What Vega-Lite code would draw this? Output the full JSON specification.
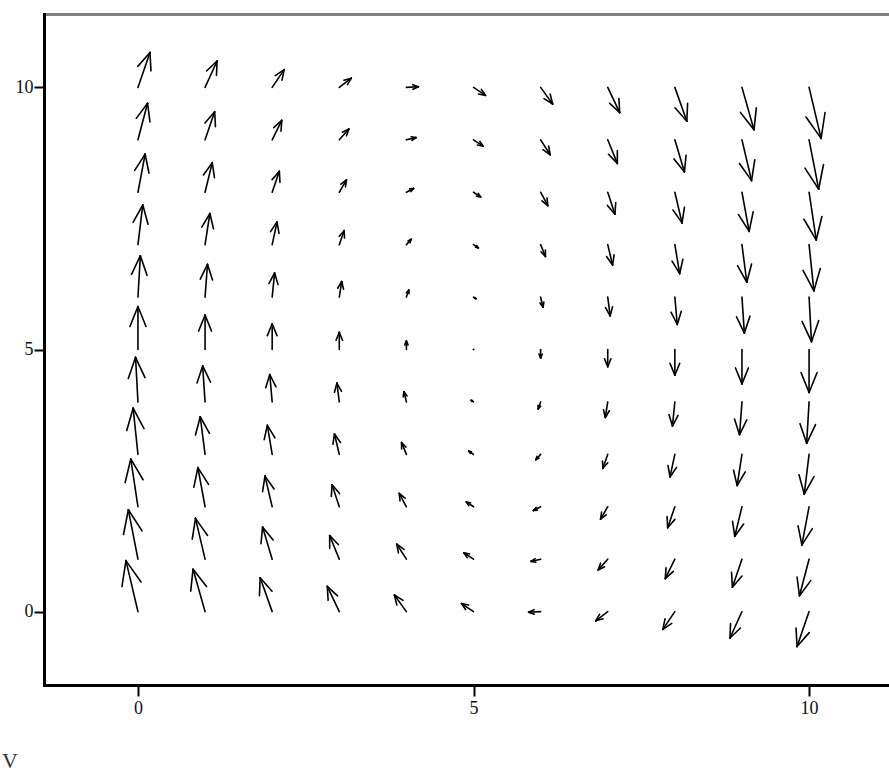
{
  "$schema": "https://vega.github.io/schema/vega-lite/v6.json",
  "width": 845,
  "height": 671,
  "autosize": "none",
  "padding": {"left": 44, "top": 14, "right": 0, "bottom": 93},
  "background": "white",
  "view": {"stroke": null},
  "title": {"text": "V", "orient": "bottom", "anchor": "start", "frame": "group", "dx": -42, "offset": 34, "font": "Liberation Serif", "fontSize": 22, "fontWeight": "normal", "color": "#333"},
  "config": {
    "axis": {"grid": false, "labelFont": "Liberation Serif", "labelFontSize": 18, "labelColor": "#111", "domainColor": "#000", "domainWidth": 3, "ticks": true, "tickColor": "#000", "tickWidth": 2, "tickOpacity": 1, "title": null},
    "rule": {"color": "#000", "strokeWidth": 1.6, "strokeCap": "round"}
  },
  "data": {"values": [
    {"x":0,"y":0,"hx":-0.179,"hy":0.973,"ax":0.046,"ay":0.565,"bx":-0.238,"by":0.479},
    {"x":1,"y":0,"hx":0.821,"hy":0.809,"ax":1.022,"ay":0.477,"bx":0.786,"by":0.391},
    {"x":2,"y":0,"hx":1.821,"hy":0.645,"ax":1.998,"ay":0.389,"bx":1.810,"by":0.303},
    {"x":3,"y":0,"hx":2.821,"hy":0.481,"ax":2.974,"ay":0.301,"bx":2.834,"by":0.215},
    {"x":4,"y":0,"hx":3.821,"hy":0.317,"ax":3.950,"ay":0.213,"bx":3.858,"by":0.127},
    {"x":5,"y":0,"hx":4.821,"hy":0.153,"ax":4.926,"ay":0.125,"bx":4.882,"by":0.039},
    {"x":6,"y":0,"hx":5.821,"hy":-0.011,"ax":5.902,"ay":0.037,"bx":5.906,"by":-0.049},
    {"x":7,"y":0,"hx":6.821,"hy":-0.175,"ax":6.878,"ay":-0.051,"bx":6.930,"by":-0.137},
    {"x":8,"y":0,"hx":7.821,"hy":-0.339,"ax":7.854,"ay":-0.139,"bx":7.954,"by":-0.225},
    {"x":9,"y":0,"hx":8.821,"hy":-0.503,"ax":8.830,"ay":-0.227,"bx":8.978,"by":-0.313},
    {"x":10,"y":0,"hx":9.821,"hy":-0.667,"ax":9.806,"ay":-0.315,"bx":10.002,"by":-0.401},
    {"x":0,"y":1,"hx":-0.143,"hy":1.942,"ax":0.061,"ay":1.540,"bx":-0.215,"by":1.471},
    {"x":1,"y":1,"hx":0.857,"hy":1.778,"ax":1.037,"ay":1.452,"bx":0.809,"by":1.383},
    {"x":2,"y":1,"hx":1.857,"hy":1.614,"ax":2.013,"ay":1.364,"bx":1.833,"by":1.295},
    {"x":3,"y":1,"hx":2.857,"hy":1.450,"ax":2.989,"ay":1.276,"bx":2.857,"by":1.207},
    {"x":4,"y":1,"hx":3.857,"hy":1.286,"ax":3.965,"ay":1.188,"bx":3.881,"by":1.119},
    {"x":5,"y":1,"hx":4.857,"hy":1.122,"ax":4.941,"ay":1.100,"bx":4.905,"by":1.031},
    {"x":6,"y":1,"hx":5.857,"hy":0.958,"ax":5.917,"ay":1.012,"bx":5.929,"by":0.943},
    {"x":7,"y":1,"hx":6.857,"hy":0.794,"ax":6.893,"ay":0.924,"bx":6.953,"by":0.855},
    {"x":8,"y":1,"hx":7.857,"hy":0.630,"ax":7.869,"ay":0.836,"bx":7.977,"by":0.767},
    {"x":9,"y":1,"hx":8.857,"hy":0.466,"ax":8.845,"ay":0.748,"bx":9.001,"by":0.679},
    {"x":10,"y":1,"hx":9.857,"hy":0.302,"ax":9.821,"ay":0.660,"bx":10.025,"by":0.591},
    {"x":0,"y":2,"hx":-0.107,"hy":2.912,"ax":0.076,"ay":2.515,"bx":-0.191,"by":2.463},
    {"x":1,"y":2,"hx":0.893,"hy":2.748,"ax":1.052,"ay":2.427,"bx":0.833,"by":2.375},
    {"x":2,"y":2,"hx":1.893,"hy":2.584,"ax":2.028,"ay":2.339,"bx":1.857,"by":2.287},
    {"x":3,"y":2,"hx":2.893,"hy":2.420,"ax":3.004,"ay":2.251,"bx":2.881,"by":2.199},
    {"x":4,"y":2,"hx":3.893,"hy":2.256,"ax":3.980,"ay":2.163,"bx":3.905,"by":2.111},
    {"x":5,"y":2,"hx":4.893,"hy":2.092,"ax":4.956,"ay":2.075,"bx":4.929,"by":2.023},
    {"x":6,"y":2,"hx":5.893,"hy":1.928,"ax":5.932,"ay":1.987,"bx":5.953,"by":1.935},
    {"x":7,"y":2,"hx":6.893,"hy":1.764,"ax":6.908,"ay":1.899,"bx":6.977,"by":1.847},
    {"x":8,"y":2,"hx":7.893,"hy":1.600,"ax":7.884,"ay":1.811,"bx":8.001,"by":1.759},
    {"x":9,"y":2,"hx":8.893,"hy":1.436,"ax":8.860,"ay":1.723,"bx":9.025,"by":1.671},
    {"x":10,"y":2,"hx":9.893,"hy":1.272,"ax":9.836,"ay":1.635,"bx":10.049,"by":1.583},
    {"x":0,"y":3,"hx":-0.072,"hy":3.881,"ax":0.090,"ay":3.490,"bx":-0.167,"by":3.456},
    {"x":1,"y":3,"hx":0.928,"hy":3.717,"ax":1.066,"ay":3.402,"bx":0.857,"by":3.368},
    {"x":2,"y":3,"hx":1.928,"hy":3.553,"ax":2.042,"ay":3.314,"bx":1.881,"by":3.280},
    {"x":3,"y":3,"hx":2.928,"hy":3.389,"ax":3.018,"ay":3.226,"bx":2.905,"by":3.192},
    {"x":4,"y":3,"hx":3.928,"hy":3.225,"ax":3.994,"ay":3.138,"bx":3.929,"by":3.104},
    {"x":5,"y":3,"hx":4.928,"hy":3.061,"ax":4.970,"ay":3.050,"bx":4.953,"by":3.016},
    {"x":6,"y":3,"hx":5.928,"hy":2.897,"ax":5.946,"ay":2.962,"bx":5.977,"by":2.928},
    {"x":7,"y":3,"hx":6.928,"hy":2.733,"ax":6.922,"ay":2.874,"bx":7.001,"by":2.840},
    {"x":8,"y":3,"hx":7.928,"hy":2.569,"ax":7.898,"ay":2.786,"bx":8.025,"by":2.752},
    {"x":9,"y":3,"hx":8.928,"hy":2.405,"ax":8.874,"ay":2.698,"bx":9.049,"by":2.664},
    {"x":10,"y":3,"hx":9.928,"hy":2.241,"ax":9.850,"ay":2.610,"bx":10.073,"by":2.576},
    {"x":0,"y":4,"hx":-0.036,"hy":4.851,"ax":0.105,"ay":4.465,"bx":-0.144,"by":4.448},
    {"x":1,"y":4,"hx":0.964,"hy":4.687,"ax":1.081,"ay":4.377,"bx":0.880,"by":4.360},
    {"x":2,"y":4,"hx":1.964,"hy":4.523,"ax":2.057,"ay":4.289,"bx":1.904,"by":4.272},
    {"x":3,"y":4,"hx":2.964,"hy":4.359,"ax":3.033,"ay":4.201,"bx":2.928,"by":4.184},
    {"x":4,"y":4,"hx":3.964,"hy":4.195,"ax":4.009,"ay":4.113,"bx":3.952,"by":4.096},
    {"x":5,"y":4,"hx":4.964,"hy":4.031,"ax":4.985,"ay":4.025,"bx":4.976,"by":4.008},
    {"x":6,"y":4,"hx":5.964,"hy":3.867,"ax":5.961,"ay":3.937,"bx":6.000,"by":3.920},
    {"x":7,"y":4,"hx":6.964,"hy":3.703,"ax":6.937,"ay":3.849,"bx":7.024,"by":3.832},
    {"x":8,"y":4,"hx":7.964,"hy":3.539,"ax":7.913,"ay":3.761,"bx":8.048,"by":3.744},
    {"x":9,"y":4,"hx":8.964,"hy":3.375,"ax":8.889,"ay":3.673,"bx":9.072,"by":3.656},
    {"x":10,"y":4,"hx":9.964,"hy":3.211,"ax":9.865,"ay":3.585,"bx":10.096,"by":3.568},
    {"x":0,"y":5,"hx":0,"hy":5.820,"ax":0.120,"ay":5.440,"bx":-0.120,"by":5.440},
    {"x":1,"y":5,"hx":1,"hy":5.656,"ax":1.096,"ay":5.352,"bx":0.904,"by":5.352},
    {"x":2,"y":5,"hx":2,"hy":5.492,"ax":2.072,"ay":5.264,"bx":1.928,"by":5.264},
    {"x":3,"y":5,"hx":3,"hy":5.328,"ax":3.048,"ay":5.176,"bx":2.952,"by":5.176},
    {"x":4,"y":5,"hx":4,"hy":5.164,"ax":4.024,"ay":5.088,"bx":3.976,"by":5.088},
    {"x":5,"y":5,"hx":5,"hy":5,"ax":5,"ay":5,"bx":5,"by":5},
    {"x":6,"y":5,"hx":6,"hy":4.836,"ax":5.976,"ay":4.912,"bx":6.024,"by":4.912},
    {"x":7,"y":5,"hx":7,"hy":4.672,"ax":6.952,"ay":4.824,"bx":7.048,"by":4.824},
    {"x":8,"y":5,"hx":8,"hy":4.508,"ax":7.928,"ay":4.736,"bx":8.072,"by":4.736},
    {"x":9,"y":5,"hx":9,"hy":4.344,"ax":8.904,"ay":4.648,"bx":9.096,"by":4.648},
    {"x":10,"y":5,"hx":10,"hy":4.180,"ax":9.880,"ay":4.560,"bx":10.120,"by":4.560},
    {"x":0,"y":6,"hx":0.036,"hy":6.789,"ax":0.135,"ay":6.415,"bx":-0.096,"by":6.432},
    {"x":1,"y":6,"hx":1.036,"hy":6.625,"ax":1.111,"ay":6.327,"bx":0.928,"by":6.344},
    {"x":2,"y":6,"hx":2.036,"hy":6.461,"ax":2.087,"ay":6.239,"bx":1.952,"by":6.256},
    {"x":3,"y":6,"hx":3.036,"hy":6.297,"ax":3.063,"ay":6.151,"bx":2.976,"by":6.168},
    {"x":4,"y":6,"hx":4.036,"hy":6.133,"ax":4.039,"ay":6.063,"bx":4.000,"by":6.080},
    {"x":5,"y":6,"hx":5.036,"hy":5.969,"ax":5.015,"ay":5.975,"bx":5.024,"by":5.992},
    {"x":6,"y":6,"hx":6.036,"hy":5.805,"ax":5.991,"ay":5.887,"bx":6.048,"by":5.904},
    {"x":7,"y":6,"hx":7.036,"hy":5.641,"ax":6.967,"ay":5.799,"bx":7.072,"by":5.816},
    {"x":8,"y":6,"hx":8.036,"hy":5.477,"ax":7.943,"ay":5.711,"bx":8.096,"by":5.728},
    {"x":9,"y":6,"hx":9.036,"hy":5.313,"ax":8.919,"ay":5.623,"bx":9.120,"by":5.640},
    {"x":10,"y":6,"hx":10.036,"hy":5.149,"ax":9.895,"ay":5.535,"bx":10.144,"by":5.552},
    {"x":0,"y":7,"hx":0.072,"hy":7.759,"ax":0.150,"ay":7.390,"bx":-0.073,"by":7.424},
    {"x":1,"y":7,"hx":1.072,"hy":7.595,"ax":1.126,"ay":7.302,"bx":0.951,"by":7.336},
    {"x":2,"y":7,"hx":2.072,"hy":7.431,"ax":2.102,"ay":7.214,"bx":1.975,"by":7.248},
    {"x":3,"y":7,"hx":3.072,"hy":7.267,"ax":3.078,"ay":7.126,"bx":2.999,"by":7.160},
    {"x":4,"y":7,"hx":4.072,"hy":7.103,"ax":4.054,"ay":7.038,"bx":4.023,"by":7.072},
    {"x":5,"y":7,"hx":5.072,"hy":6.939,"ax":5.030,"ay":6.950,"bx":5.047,"by":6.984},
    {"x":6,"y":7,"hx":6.072,"hy":6.775,"ax":6.006,"ay":6.862,"bx":6.071,"by":6.896},
    {"x":7,"y":7,"hx":7.072,"hy":6.611,"ax":6.982,"ay":6.774,"bx":7.095,"by":6.808},
    {"x":8,"y":7,"hx":8.072,"hy":6.447,"ax":7.958,"ay":6.686,"bx":8.119,"by":6.720},
    {"x":9,"y":7,"hx":9.072,"hy":6.283,"ax":8.934,"ay":6.598,"bx":9.143,"by":6.632},
    {"x":10,"y":7,"hx":10.072,"hy":6.119,"ax":9.910,"ay":6.510,"bx":10.167,"by":6.544},
    {"x":0,"y":8,"hx":0.107,"hy":8.728,"ax":0.164,"ay":8.365,"bx":-0.049,"by":8.417},
    {"x":1,"y":8,"hx":1.107,"hy":8.564,"ax":1.140,"ay":8.277,"bx":0.975,"by":8.329},
    {"x":2,"y":8,"hx":2.107,"hy":8.400,"ax":2.116,"ay":8.189,"bx":1.999,"by":8.241},
    {"x":3,"y":8,"hx":3.107,"hy":8.236,"ax":3.092,"ay":8.101,"bx":3.023,"by":8.153},
    {"x":4,"y":8,"hx":4.107,"hy":8.072,"ax":4.068,"ay":8.013,"bx":4.047,"by":8.065},
    {"x":5,"y":8,"hx":5.107,"hy":7.908,"ax":5.044,"ay":7.925,"bx":5.071,"by":7.977},
    {"x":6,"y":8,"hx":6.107,"hy":7.744,"ax":6.020,"ay":7.837,"bx":6.095,"by":7.889},
    {"x":7,"y":8,"hx":7.107,"hy":7.580,"ax":6.996,"ay":7.749,"bx":7.119,"by":7.801},
    {"x":8,"y":8,"hx":8.107,"hy":7.416,"ax":7.972,"ay":7.661,"bx":8.143,"by":7.713},
    {"x":9,"y":8,"hx":9.107,"hy":7.252,"ax":8.948,"ay":7.573,"bx":9.167,"by":7.625},
    {"x":10,"y":8,"hx":10.107,"hy":7.088,"ax":9.924,"ay":7.485,"bx":10.191,"by":7.537},
    {"x":0,"y":9,"hx":0.143,"hy":9.698,"ax":0.179,"ay":9.340,"bx":-0.025,"by":9.409},
    {"x":1,"y":9,"hx":1.143,"hy":9.534,"ax":1.155,"ay":9.252,"bx":0.999,"by":9.321},
    {"x":2,"y":9,"hx":2.143,"hy":9.370,"ax":2.131,"ay":9.164,"bx":2.023,"by":9.233},
    {"x":3,"y":9,"hx":3.143,"hy":9.206,"ax":3.107,"ay":9.076,"bx":3.047,"by":9.145},
    {"x":4,"y":9,"hx":4.143,"hy":9.042,"ax":4.083,"ay":8.988,"bx":4.071,"by":9.057},
    {"x":5,"y":9,"hx":5.143,"hy":8.878,"ax":5.059,"ay":8.900,"bx":5.095,"by":8.969},
    {"x":6,"y":9,"hx":6.143,"hy":8.714,"ax":6.035,"ay":8.812,"bx":6.119,"by":8.881},
    {"x":7,"y":9,"hx":7.143,"hy":8.550,"ax":7.011,"ay":8.724,"bx":7.143,"by":8.793},
    {"x":8,"y":9,"hx":8.143,"hy":8.386,"ax":7.987,"ay":8.636,"bx":8.167,"by":8.705},
    {"x":9,"y":9,"hx":9.143,"hy":8.222,"ax":8.963,"ay":8.548,"bx":9.191,"by":8.617},
    {"x":10,"y":9,"hx":10.143,"hy":8.058,"ax":9.939,"ay":8.460,"bx":10.215,"by":8.529},
    {"x":0,"y":10,"hx":0.179,"hy":10.667,"ax":0.194,"ay":10.315,"bx":-0.002,"by":10.401},
    {"x":1,"y":10,"hx":1.179,"hy":10.503,"ax":1.170,"ay":10.227,"bx":1.022,"by":10.313},
    {"x":2,"y":10,"hx":2.179,"hy":10.339,"ax":2.146,"ay":10.139,"bx":2.046,"by":10.225},
    {"x":3,"y":10,"hx":3.179,"hy":10.175,"ax":3.122,"ay":10.051,"bx":3.070,"by":10.137},
    {"x":4,"y":10,"hx":4.179,"hy":10.011,"ax":4.098,"ay":9.963,"bx":4.094,"by":10.049},
    {"x":5,"y":10,"hx":5.179,"hy":9.847,"ax":5.074,"ay":9.875,"bx":5.118,"by":9.961},
    {"x":6,"y":10,"hx":6.179,"hy":9.683,"ax":6.050,"ay":9.787,"bx":6.142,"by":9.873},
    {"x":7,"y":10,"hx":7.179,"hy":9.519,"ax":7.026,"ay":9.699,"bx":7.166,"by":9.785},
    {"x":8,"y":10,"hx":8.179,"hy":9.355,"ax":8.002,"ay":9.611,"bx":8.190,"by":9.697},
    {"x":9,"y":10,"hx":9.179,"hy":9.191,"ax":8.978,"ay":9.523,"bx":9.214,"by":9.609},
    {"x":10,"y":10,"hx":10.179,"hy":9.027,"ax":9.954,"ay":9.435,"bx":10.238,"by":9.521}
  ]},
  "layer": [
    {
      "mark": {"type": "rule"},
      "encoding": {
        "x": {"field": "x", "type": "quantitative", "scale": {"domain": [-1.4, 11.191], "nice": false, "zero": false}, "axis": {"orient": "bottom", "values": [0, 5, 10], "ticks": true, "tickSize": 11, "labelPadding": 3, "domainCap": "square"}},
        "y": {"field": "y", "type": "quantitative", "scale": {"domain": [-1.4, 11.4], "nice": false, "zero": false}, "axis": {"orient": "left", "values": [0, 5, 10], "ticks": true, "tickSize": 10, "labelPadding": 1, "domainCap": "square"}},
        "x2": {"field": "hx"},
        "y2": {"field": "hy"}
      }
    },
    {
      "mark": {"type": "rule"},
      "encoding": {
        "x": {"field": "hx", "type": "quantitative", "scale": {"domain": [-1.4, 11.191], "nice": false, "zero": false}, "axis": {"orient": "top", "labels": false, "ticks": false, "domainColor": "#808080", "domainWidth": 3}},
        "y": {"field": "hy", "type": "quantitative", "scale": {"domain": [-1.4, 11.4], "nice": false, "zero": false}},
        "x2": {"field": "ax"},
        "y2": {"field": "ay"}
      }
    },
    {
      "mark": {"type": "rule"},
      "encoding": {
        "x": {"field": "hx", "type": "quantitative", "scale": {"domain": [-1.4, 11.191], "nice": false, "zero": false}, "axis": null},
        "y": {"field": "hy", "type": "quantitative", "scale": {"domain": [-1.4, 11.4], "nice": false, "zero": false}},
        "x2": {"field": "bx"},
        "y2": {"field": "by"}
      }
    }
  ],
  "resolve": {"axis": {"x": "independent"}}
}
